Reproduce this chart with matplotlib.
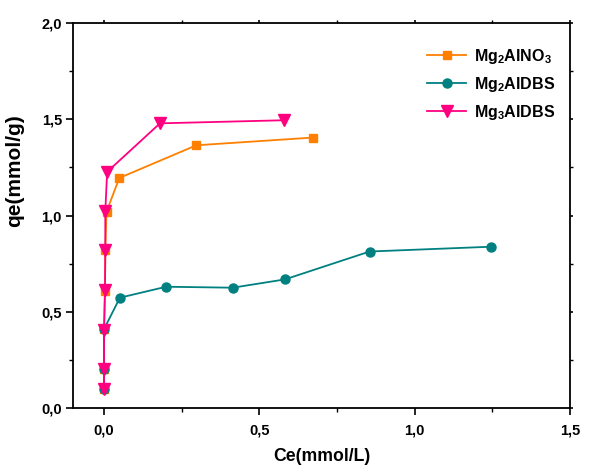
import matplotlib
matplotlib.use("Agg")
import matplotlib.pyplot as plt
from matplotlib.ticker import MultipleLocator, FuncFormatter

plt.rcParams['font.family'] = ['Liberation Sans', 'DejaVu Sans']
plt.rcParams['font.weight'] = 'bold'
plt.rcParams['mathtext.fontset'] = 'custom'
plt.rcParams['mathtext.rm'] = 'Liberation Sans:bold'
plt.rcParams['mathtext.bf'] = 'Liberation Sans:bold'
plt.rcParams['mathtext.default'] = 'bf'

# Data
nitrate_ce = [0.0, 0.0, 0.0, 0.003, 0.004, 0.008, 0.049, 0.297, 0.672]
nitrate_qe = [0.10, 0.20, 0.41, 0.61, 0.82, 1.02, 1.195, 1.365, 1.405]

dbs2_ce = [0.0, 0.0, 0.0, 0.051, 0.200, 0.414, 0.582, 0.855, 1.247]
dbs2_qe = [0.10, 0.20, 0.41, 0.573, 0.630, 0.625, 0.668, 0.813, 0.838]

dbs3_ce = [0.0, 0.0, 0.0, 0.003, 0.004, 0.004, 0.010, 0.180, 0.578]
dbs3_qe = [0.10, 0.20, 0.405, 0.613, 0.82, 1.023, 1.227, 1.479, 1.495]

labels = [r'Mg$_2$AlNO$_3$', r'Mg$_2$AlDBS', r'Mg$_3$AlDBS']
colors = ['#FF8000', '#008080', '#FF0080']

fig = plt.figure(figsize=(5.91, 4.66), dpi=100)
ax = fig.add_axes([0.1235, 0.1245, 0.841, 0.826])

ax.plot(nitrate_ce, nitrate_qe, '-s', color=colors[0], ms=6, lw=1.3, label=labels[0])
ax.plot(dbs2_ce, dbs2_qe, '-o', color=colors[1], ms=6.5, lw=1.3, label=labels[1])
ax.plot(dbs3_ce, dbs3_qe, '-v', color=colors[2], ms=8, lw=1.3, label=labels[2])

ax.set_xlim(-0.1, 1.5)
ax.set_ylim(0, 2.0)
ax.xaxis.set_major_locator(MultipleLocator(0.5))
ax.xaxis.set_minor_locator(MultipleLocator(0.25))
ax.yaxis.set_major_locator(MultipleLocator(0.5))
ax.yaxis.set_minor_locator(MultipleLocator(0.25))
fmt = FuncFormatter(lambda v, p: f'{v:.1f}'.replace('.', ','))
ax.xaxis.set_major_formatter(fmt)
ax.yaxis.set_major_formatter(fmt)

for s in ax.spines.values():
    s.set_linewidth(1.3)

ax.tick_params(which='major', direction='out', length=5, width=1.2, labelsize=10.5)
ax.tick_params(which='minor', direction='out', length=3, width=1.0)
ax.tick_params(which='both', top=True, right=True, labeltop=False, labelright=False)
ax.tick_params(axis='x', which='major', pad=6)
ax.tick_params(axis='y', which='major', pad=3)
for axis in (ax.xaxis, ax.yaxis):
    for t in axis.get_major_ticks() + axis.get_minor_ticks():
        t.tick2line.set_markersize(2.5)

ax.set_xlabel('Ce(mmol/L)', fontsize=12.7, fontweight='bold', labelpad=8)
ax.set_ylabel('qe(mmol/g)', fontsize=15, fontweight='bold')
ax.yaxis.set_label_coords(-0.099, 0.617)

leg = ax.legend(loc='upper right', bbox_to_anchor=(1.0, 0.975), frameon=False,
                fontsize=11.5, handlelength=2.5, labelspacing=0.55, handletextpad=0.5)

fig.savefig('out.png', dpi=100)
